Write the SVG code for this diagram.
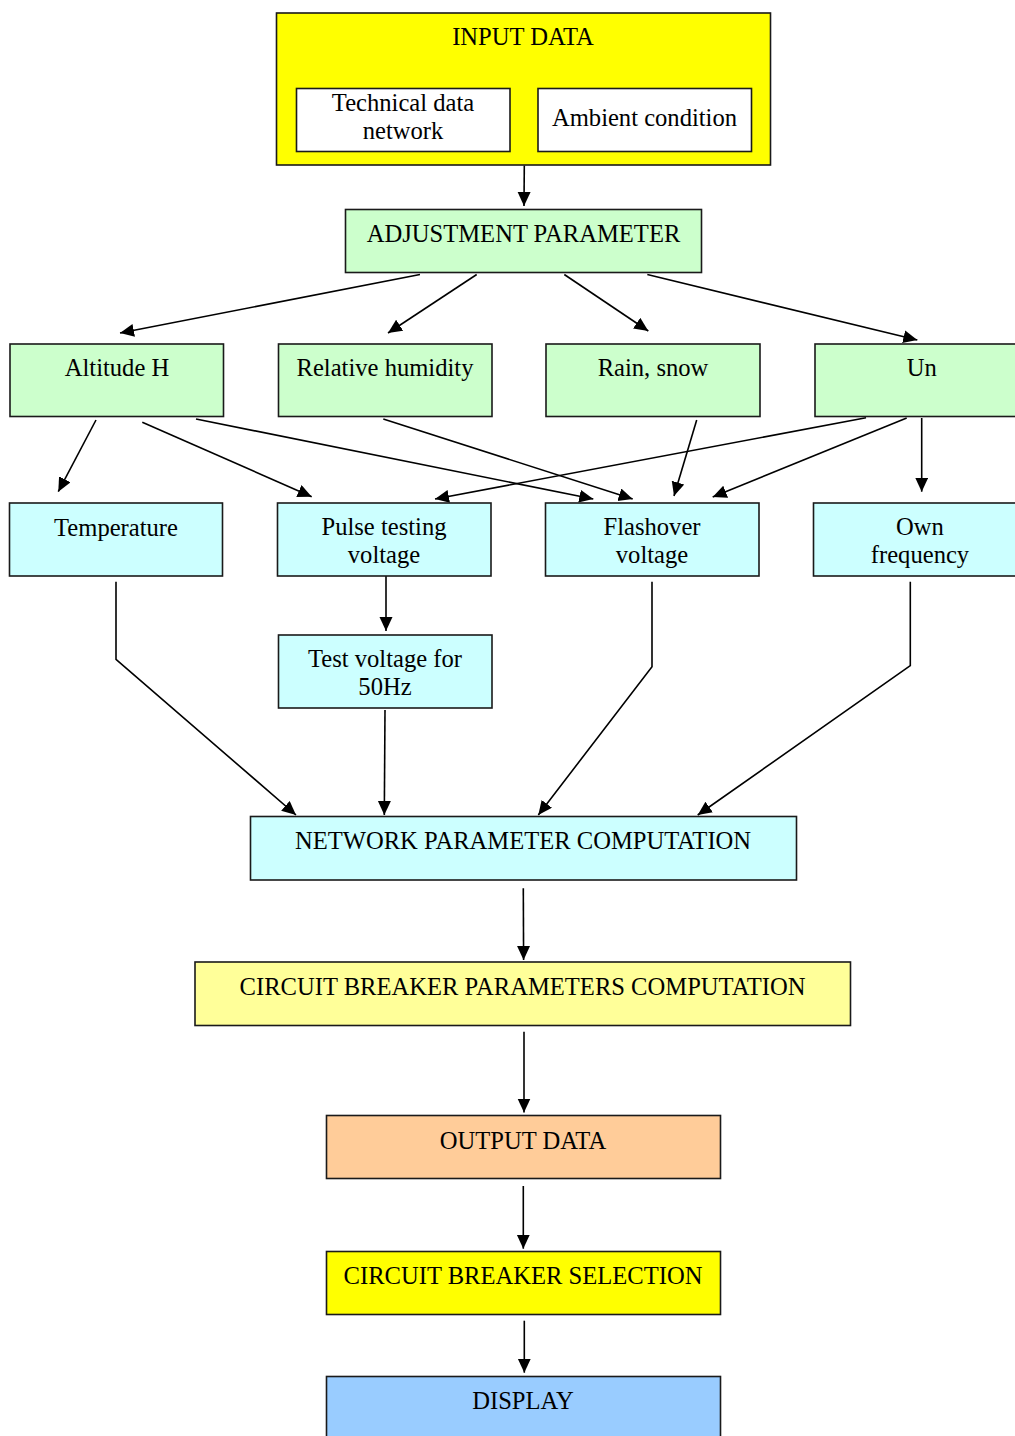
<svg xmlns="http://www.w3.org/2000/svg" width="1015" height="1436" viewBox="0 0 1015 1436">
<style>
  .box { stroke: #1a1a1a; stroke-width: 1.6; }
  .t { font-family: "Liberation Serif", "Times New Roman", serif; font-size: 24.6px; fill: #000; text-anchor: middle; }
  .c { fill: none; stroke: #000; stroke-width: 1.6; marker-end: url(#ah); }
  .yellow { fill: #FFFF00; }
  .white { fill: #FFFFFF; }
  .green { fill: #CCFFCC; }
  .cyan { fill: #CCFFFF; }
  .ltyellow { fill: #FFFF99; }
  .peach { fill: #FFCC99; }
  .blue { fill: #99CCFF; }
</style>
<defs>
  <marker id="ah" markerUnits="userSpaceOnUse" markerWidth="15" markerHeight="14" refX="14" refY="6.5" orient="auto">
    <path d="M0,0 L14,6.5 L0,13 z" fill="#000"/>
  </marker>
</defs>
<rect width="1015" height="1436" fill="#fff"/>

<g id="connectors">
  <path class="c" d="M524.3,165.5 L524,206"/>
  <path class="c" d="M420,274.5 L120,333"/>
  <path class="c" d="M476.7,274.5 L388,333"/>
  <path class="c" d="M564.3,274.5 L648.3,331"/>
  <path class="c" d="M647.3,274.5 L917.3,340"/>
  <path class="c" d="M96,420 L58.3,491.7"/>
  <path class="c" d="M142.3,422.3 L311.7,496.7"/>
  <path class="c" d="M196,419 L593.3,499"/>
  <path class="c" d="M383.3,419 L632.7,499"/>
  <path class="c" d="M866,417.7 L435,499"/>
  <path class="c" d="M696.7,420 L674,496"/>
  <path class="c" d="M906.7,418 L712.7,497"/>
  <path class="c" d="M921.7,418 L921.7,491.7"/>
  <path class="c" d="M386,576 L386,631"/>
  <path class="c" d="M116,581.7 L116,659.3 L296,815"/>
  <path class="c" d="M385,710 L384.3,815"/>
  <path class="c" d="M652,581.7 L652,666.7 L538.3,815"/>
  <path class="c" d="M910.3,581.7 L910.3,665.7 L697.7,815"/>
  <path class="c" d="M523.3,888.3 L523.6,960"/>
  <path class="c" d="M524,1031.7 L524,1112.5"/>
  <path class="c" d="M523.3,1186 L523.3,1248.7"/>
  <path class="c" d="M524.3,1320.7 L524.3,1372.7"/>
</g>

<g id="input-data">
  <rect class="box yellow" x="276.5" y="13" width="494" height="152"/>
  <text class="t" x="523" y="45">INPUT DATA</text>
</g>
<g id="technical-data">
  <rect class="box white" x="296.5" y="88.5" width="213.5" height="63"/>
  <text class="t" x="403" y="111">Technical data</text>
  <text class="t" x="403" y="139">network</text>
</g>
<g id="ambient-condition">
  <rect class="box white" x="538" y="88.5" width="213.5" height="63"/>
  <text class="t" x="644.5" y="126">Ambient condition</text>
</g>
<g id="adjustment-parameter">
  <rect class="box green" x="345.5" y="209.5" width="356" height="63"/>
  <text class="t" x="523.5" y="242">ADJUSTMENT PARAMETER</text>
</g>
<g id="altitude">
  <rect class="box green" x="10" y="344" width="213.5" height="72.5"/>
  <text class="t" x="117" y="376">Altitude H</text>
</g>
<g id="relative-humidity">
  <rect class="box green" x="278.5" y="344" width="213.5" height="72.5"/>
  <text class="t" x="385" y="376">Relative humidity</text>
</g>
<g id="rain-snow">
  <rect class="box green" x="546" y="344" width="214" height="72.5"/>
  <text class="t" x="653" y="376">Rain, snow</text>
</g>
<g id="un">
  <rect class="box green" x="815" y="344" width="214" height="72.5"/>
  <text class="t" x="921.7" y="376">Un</text>
</g>
<g id="temperature">
  <rect class="box cyan" x="9.5" y="503" width="213" height="73"/>
  <text class="t" x="116" y="536">Temperature</text>
</g>
<g id="pulse-testing-voltage">
  <rect class="box cyan" x="277.5" y="503" width="213.5" height="73"/>
  <text class="t" x="384" y="535">Pulse testing</text>
  <text class="t" x="384" y="563">voltage</text>
</g>
<g id="flashover-voltage">
  <rect class="box cyan" x="545.5" y="503" width="213.5" height="73"/>
  <text class="t" x="652" y="535">Flashover</text>
  <text class="t" x="652" y="563">voltage</text>
</g>
<g id="own-frequency">
  <rect class="box cyan" x="813.5" y="503" width="214" height="73"/>
  <text class="t" x="920" y="535">Own</text>
  <text class="t" x="920" y="563">frequency</text>
</g>
<g id="test-voltage-50hz">
  <rect class="box cyan" x="278.5" y="635" width="213.5" height="73"/>
  <text class="t" x="385" y="667">Test voltage for</text>
  <text class="t" x="385" y="694.5">50Hz</text>
</g>
<g id="network-parameter-computation">
  <rect class="box cyan" x="250.5" y="816.5" width="546" height="63.5"/>
  <text class="t" x="523" y="848.5">NETWORK PARAMETER COMPUTATION</text>
</g>
<g id="circuit-breaker-parameters-computation">
  <rect class="box ltyellow" x="195" y="962" width="655.5" height="63.5"/>
  <text class="t" x="522.5" y="995">CIRCUIT BREAKER PARAMETERS COMPUTATION</text>
</g>
<g id="output-data">
  <rect class="box peach" x="326.5" y="1115.5" width="394" height="63"/>
  <text class="t" x="523" y="1148.5">OUTPUT DATA</text>
</g>
<g id="circuit-breaker-selection">
  <rect class="box yellow" x="326.5" y="1251.5" width="394" height="63"/>
  <text class="t" x="523" y="1284">CIRCUIT BREAKER SELECTION</text>
</g>
<g id="display">
  <rect class="box blue" x="326.5" y="1376.5" width="394" height="70"/>
  <text class="t" x="523" y="1409">DISPLAY</text>
</g>
</svg>
